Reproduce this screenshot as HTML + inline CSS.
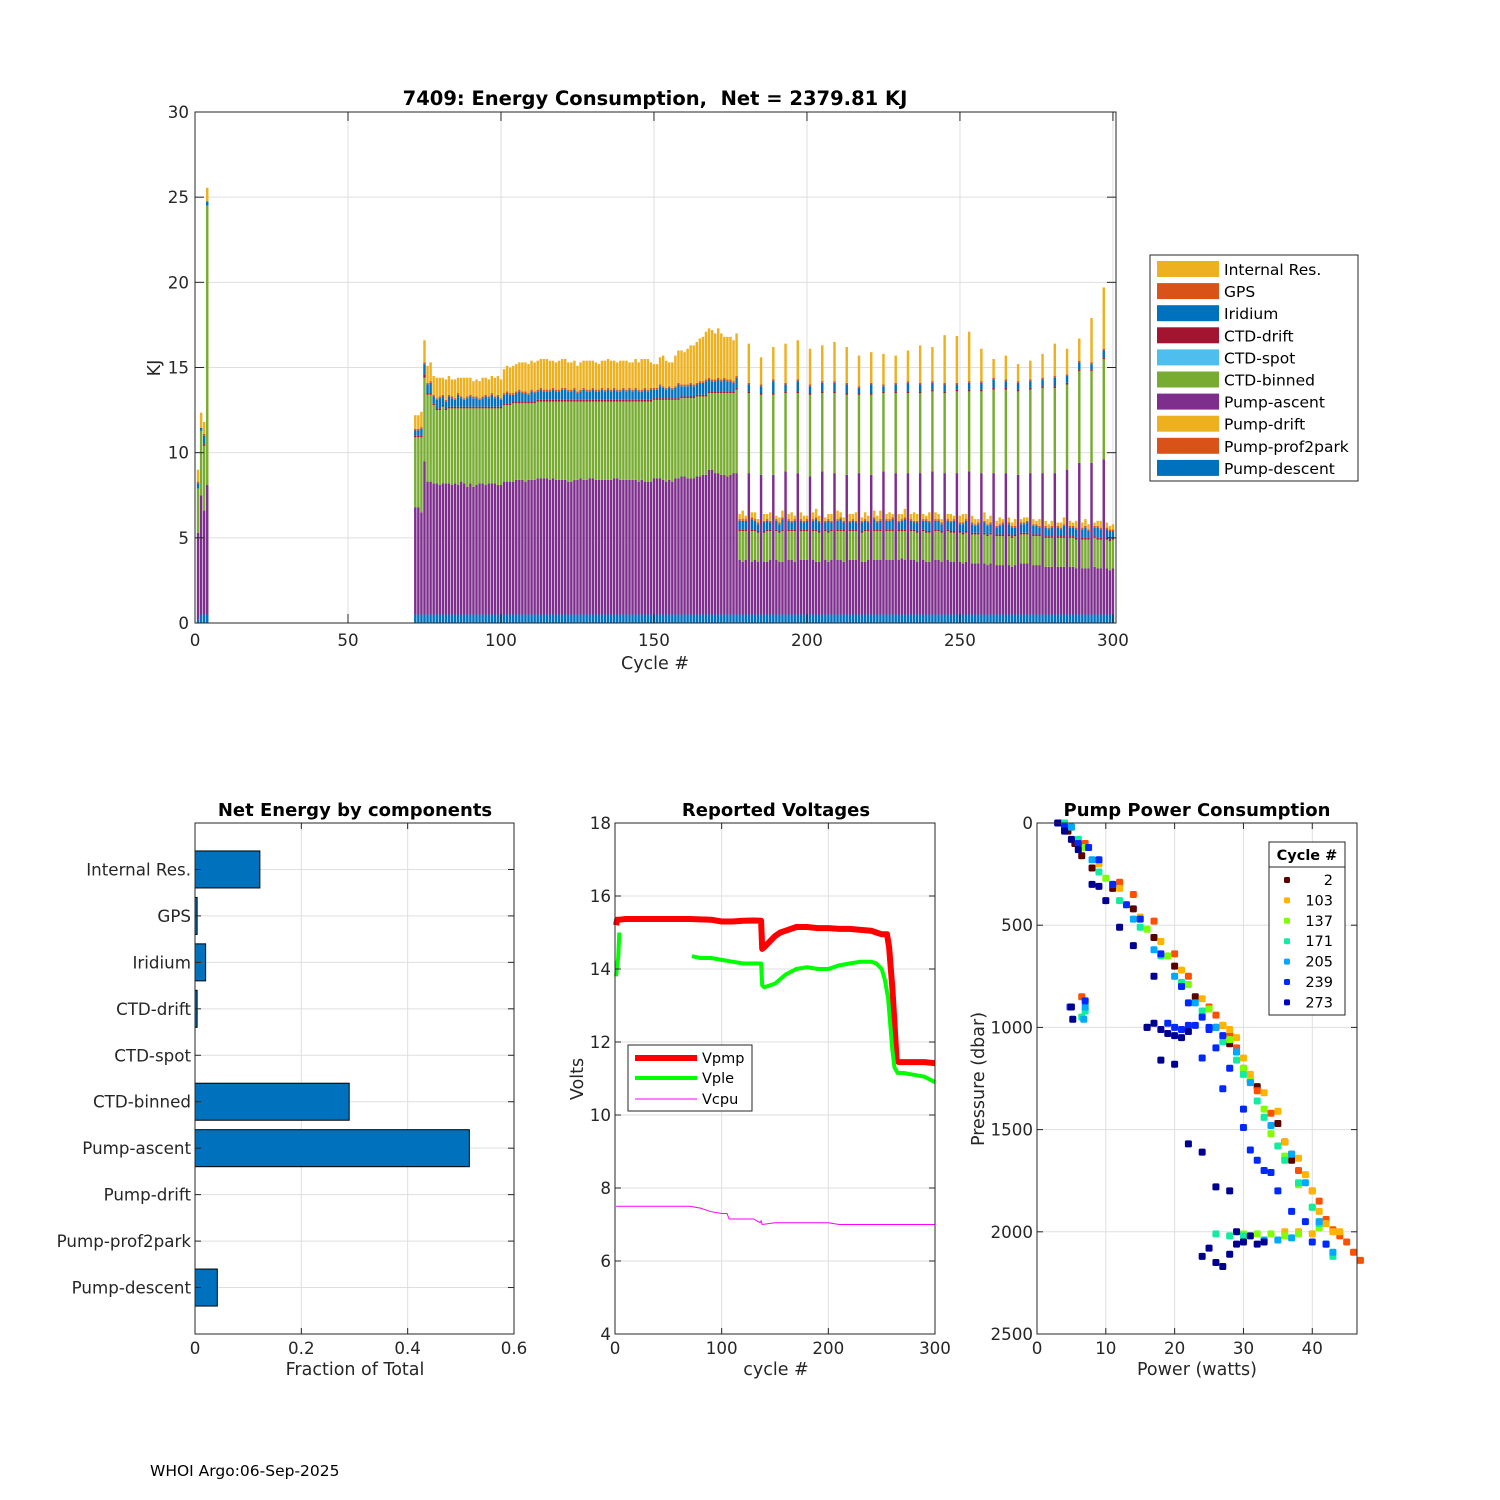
<!DOCTYPE html>
<html><head><meta charset="utf-8">
<style>
html,body{margin:0;padding:0;background:#fff;}
svg{display:block;font-family:"DejaVu Sans","Liberation Sans",sans-serif;}
.tk{font-size:16.7px;fill:#262626;}
.ttl{font-size:18px;font-weight:bold;fill:#000;}
.lab{font-size:17.5px;fill:#262626;}
.grid{stroke:#dfdfdf;stroke-width:1;}
</style></head>
<body>
<svg id="fig" width="1500" height="1500" viewBox="0 0 1500 1500" xmlns="http://www.w3.org/2000/svg">
<rect width="1500" height="1500" fill="#fff"/>
<g id="top"></g>
<g id="bl"></g>
<g id="bm"></g>
<g id="br"></g>
<text x="150" y="1476" font-size="15.5" fill="#000">WHOI Argo:06-Sep-2025</text>
</svg>
<script>
// ---------- Top chart data ----------
const cycles = [1,2,3,4,
72,73,74,75,76,77,78,79,80,81,82,83,84,85,86,87,88,89,90,91,92,93,94,95,96,97,98,99,100,
101,102,103,104,105,106,107,108,109,110,111,112,113,114,115,116,117,118,119,120,
121,122,123,124,125,126,127,128,129,130,131,132,133,134,135,136,137,138,139,140,
141,142,143,144,145,146,147,148,149,150,151,152,153,154,155,156,157,158,159,160,
161,162,163,164,165,166,167,168,169,170,171,172,173,174,175,176,177,
178,179,180,181,182,183,184,185,186,187,188,189,190,191,192,193,194,195,196,197,198,199,200,
201,202,203,204,205,206,207,208,209,210,211,212,213,214,215,216,217,218,219,220,
221,222,223,224,225,226,227,228,229,230,231,232,233,234,235,236,237,238,239,240,
241,242,243,244,245,246,247,248,249,250,251,252,253,254,255,256,257,258,259,260,
261,262,263,264,265,266,267,268,269,270,271,272,273,274,275,276,277,278,279,280,
281,282,283,284,285,286,287,288,289,290,291,292,293,294,295,296,297,298,299,300];
const descent = [0.2,0.5,0.5,0.5,
.5,.5,.5,.5,.5,.5,.5,.5,.5,.5,.5,.5,.5,.5,.5,.5,.5,.5,.5,.5,.5,.5,.5,.5,.5,.5,.5,.5,.5,
.5,.5,.5,.5,.5,.5,.5,.5,.5,.5,.5,.5,.5,.5,.5,.5,.5,.5,.5,.5,
.5,.5,.5,.5,.5,.5,.5,.5,.5,.5,.5,.5,.5,.5,.5,.5,.5,.5,.5,.5,
.5,.5,.5,.5,.5,.5,.5,.5,.5,.5,.5,.5,.5,.5,.5,.5,.5,.5,.5,.5,
.5,.5,.5,.5,.5,.5,.5,.5,.5,.5,.5,.5,.5,.5,.5,.5,.5,
.5,.5,.5,.5,.5,.5,.5,.5,.5,.5,.5,.5,.5,.5,.5,.5,.5,.5,.5,.5,.5,.5,.5,
.5,.5,.5,.5,.5,.5,.5,.5,.5,.5,.5,.5,.5,.5,.5,.5,.5,.5,.5,.5,
.5,.5,.5,.5,.5,.5,.5,.5,.5,.5,.5,.5,.5,.5,.5,.5,.5,.5,.5,.5,
.5,.5,.5,.5,.5,.5,.5,.5,.5,.5,.5,.5,.5,.5,.5,.5,.5,.5,.5,.5,
.5,.5,.5,.5,.5,.5,.5,.5,.5,.5,.5,.5,.5,.5,.5,.5,.5,.5,.5,.5,
.5,.5,.5,.5,.5,.5,.5,.5,.5,.5,.5,.5,.5,.5,.5,.5,.5,.5,.5,.5];
const ascent = [5.1,7.0,6.1,7.6,
6.3,6.3,6.0,9.0,7.8,7.8,7.7,7.7,7.6,
7.7,7.7,7.7,7.6,7.7,7.6,7.8,7.7,7.5,7.7,
7.5,7.6,7.7,7.7,7.6,7.7,7.7,7.7,7.6,7.6,
7.8,7.8,7.8,7.8,7.9,7.9,7.9,7.8,7.9,7.9,
7.9,8.0,8.0,8.0,8.0,7.9,8.0,7.9,7.9,7.9,
7.9,7.8,7.8,7.9,7.9,8.0,7.9,7.9,8.0,8.0,
7.9,7.9,7.9,7.9,7.9,7.9,8.0,8.0,7.9,7.9,
7.9,7.9,7.9,7.9,7.8,7.9,7.8,7.8,7.8,8.0,
8.0,8.0,7.9,7.8,7.9,7.8,8.0,8.0,8.1,8.1,
8.0,8.0,8.0,8.1,8.1,8.2,8.2,8.5,8.5,8.3,
8.3,8.2,8.2,8.1,8.2,8.3,8.3,
3.2,3.1,3.2,8.3,3.1,3.2,3.1,8.2,3.1,3.1,3.2,8.2,3.2,3.1,3.1,8.4,3.2,3.2,3.1,8.3,3.2,3.2,3.2,
8.1,3.2,3.1,3.1,8.4,3.2,3.1,3.2,8.3,3.2,3.2,3.1,8.2,3.2,3.2,3.2,8.3,3.1,3.1,3.2,
8.2,3.2,3.2,3.2,8.4,3.2,3.2,3.2,8.3,3.2,3.3,3.2,8.3,3.2,3.2,3.1,8.3,3.2,3.1,3.1,
8.4,3.2,3.2,3.1,8.3,3.2,3.1,3.1,8.3,3.1,3.0,3.1,8.4,3.0,3.0,3.0,8.3,3.0,2.9,3.0,
8.3,2.9,2.9,2.9,8.3,2.9,2.8,2.9,8.2,3.0,3.0,3.0,8.3,2.9,2.9,2.9,8.3,2.8,2.8,2.8,
8.3,2.8,2.8,2.8,8.5,2.8,2.8,2.7,8.9,2.7,2.7,2.7,8.9,2.8,2.7,2.7,9.1,2.7,2.6,2.7];
const binned = [2.6,3.8,3.8,16.4,
4.1,4.1,4.4,4.9,5.1,5.1,4.6,4.3,4.4,
4.5,4.3,4.4,4.5,4.4,4.5,4.3,4.4,4.6,4.4,
4.6,4.5,4.4,4.4,4.5,4.4,4.4,4.4,4.5,4.5,
4.5,4.5,4.5,4.6,4.5,4.5,4.5,4.6,4.5,4.5,
4.5,4.5,4.5,4.5,4.5,4.6,4.5,4.6,4.6,4.6,
4.6,4.7,4.7,4.6,4.6,4.5,4.6,4.6,4.5,4.5,
4.6,4.6,4.6,4.6,4.6,4.6,4.5,4.5,4.6,4.6,
4.6,4.6,4.6,4.6,4.7,4.6,4.7,4.7,4.7,4.6,
4.6,4.6,4.7,4.8,4.7,4.8,4.6,4.6,4.6,4.6,
4.7,4.7,4.7,4.7,4.7,4.6,4.6,4.5,4.5,4.7,
4.7,4.8,4.8,4.9,4.8,4.7,4.9,
1.7,1.8,1.7,4.7,1.8,1.7,1.7,4.7,1.7,1.8,1.7,4.7,1.7,1.7,1.8,4.6,1.7,1.7,1.8,4.7,1.7,1.7,1.7,
4.8,1.7,1.8,1.7,4.6,1.7,1.7,1.7,4.7,1.7,1.7,1.8,4.7,1.7,1.7,1.7,4.6,1.7,1.8,1.7,
4.7,1.7,1.7,1.7,4.6,1.7,1.7,1.7,4.7,1.7,1.6,1.7,4.7,1.7,1.7,1.7,4.7,1.7,1.7,1.7,
4.7,1.7,1.7,1.7,4.7,1.7,1.7,1.7,4.8,1.7,1.7,1.7,4.7,1.7,1.7,1.7,4.8,1.7,1.7,1.7,
4.9,1.7,1.7,1.7,4.9,1.7,1.7,1.7,4.9,1.7,1.7,1.7,4.9,1.7,1.7,1.7,5.0,1.7,1.7,1.7,
5.0,1.7,1.7,1.7,5.0,1.7,1.7,1.7,5.4,1.7,1.7,1.7,5.4,1.7,1.7,1.7,5.9,1.7,1.7,1.7];
const ctdDrift = [0,0,.1,0,
.1,.1,.1,.2,.1,.1,.1,.1,.1,.1,.1,.1,.1,.1,.1,.1,.1,.1,.1,.1,.1,.1,.1,.1,.1,.1,.1,.1,.1,
.1,.1,.1,.1,.1,.1,.1,.1,.1,.1,.1,.1,.1,.1,.1,.1,.1,.1,.1,.1,
.1,.1,.1,.1,.1,.1,.1,.1,.1,.1,.1,.1,.1,.1,.1,.1,.1,.1,.1,.1,
.1,.1,.1,.1,.1,.1,.1,.1,.1,.1,.1,.1,.1,.1,.1,.1,.1,.1,.1,.1,
.1,.1,.1,.1,.1,.1,.1,.1,.1,.1,.1,.1,.1,.1,.1,.1,.1,
.1,.1,.1,.1,.1,.1,.1,.1,.1,.1,.1,.1,.1,.1,.1,.1,.1,.1,.1,.1,.1,.1,.1,
.1,.1,.1,.1,.1,.1,.1,.1,.1,.1,.1,.1,.1,.1,.1,.1,.1,.1,.1,.1,
.1,.1,.1,.1,.1,.1,.1,.1,.1,.1,.1,.1,.1,.1,.1,.1,.1,.1,.1,.1,
.1,.1,.1,.1,.1,.1,.1,.1,.1,.1,.1,.1,.1,.1,.1,.1,.1,.1,.1,.1,
.1,.1,.1,.1,.1,.1,.1,.1,.1,.1,.1,.1,.1,.1,.1,.1,.1,.1,.1,.1,
.1,.1,.1,.1,.1,.1,.1,.1,.1,.1,.1,.1,.1,.1,.1,.1,.1,.1,.1,.1];
const iridium = [.3,.15,.5,.25,
.3,.3,.4,.6,.5,.6,.4,.5,.6,.5,.4,.6,.5,.4,.7,.5,.4,.5,.6,.5,.5,.4,.5,.6,.5,.7,.5,.6,.4,
.5,.6,.5,.4,.5,.6,.5,.5,.4,.6,.5,.5,.6,.5,.5,.5,.6,.5,.5,.6,
.6,.5,.5,.6,.4,.5,.6,.5,.5,.6,.5,.5,.6,.5,.6,.5,.6,.5,.5,.6,
.5,.6,.5,.6,.5,.5,.6,.5,.6,.5,.5,.7,.6,.5,.6,.5,.6,.8,.6,.6,
.6,.7,.6,.6,.7,.7,.8,.7,.6,.6,.7,.6,.7,.6,.6,.5,.6,
.5,.5,.5,.4,.6,.5,.4,.4,.5,.5,.4,.7,.5,.4,.6,.4,.5,.4,.5,.6,.5,.4,.5,
.4,.5,.6,.5,.5,.4,.6,.4,.5,.5,.6,.4,.5,.4,.5,.4,.3,.5,.5,.4,
.5,.6,.4,.5,.3,.5,.5,.6,.4,.4,.5,.6,.5,.5,.4,.5,.4,.5,.6,.5,
.4,.5,.5,.4,.4,.5,.5,.6,.3,.4,.5,.6,.4,.5,.4,.5,.4,.6,.5,.5,
.5,.4,.5,.6,.4,.6,.5,.4,.4,.5,.5,.6,.4,.5,.5,.4,.4,.5,.4,.5,
.5,.5,.4,.6,.4,.5,.5,.5,.4,.5,.6,.4,.3,.5,.6,.5,.4,.5,.5,.4];
const gps = [.1,0,.1,0,
.1,.1,.1,.1,.1,.1,.1,.1,.1,.1,.1,.1,.1,.1,.1,.1,.1,.1,.1,.1,.1,.1,.1,.1,.1,.1,.1,.1,.1,
.1,.1,.1,.1,.1,.1,.1,.1,.1,.1,.1,.1,.1,.1,.1,.1,.1,.1,.1,.1,
.1,.1,.1,.1,.1,.1,.1,.1,.1,.1,.1,.1,.1,.1,.1,.1,.1,.1,.1,.1,
.1,.1,.1,.1,.1,.1,.1,.1,.1,.1,.1,.1,.1,.1,.1,.1,.1,.1,.1,.1,
.1,.1,.1,.1,.1,.1,.1,.1,.1,.1,.1,.1,.1,.1,.1,.1,.1,
.1,.1,.1,.1,.1,.1,.1,.1,.1,.1,.1,.1,.1,.1,.1,.1,.1,.1,.1,.1,.1,.1,.1,
.1,.1,.1,.1,.1,.1,.1,.1,.1,.1,.1,.1,.1,.1,.1,.1,.1,.1,.1,.1,
.1,.1,.1,.1,.1,.1,.1,.1,.1,.1,.1,.1,.1,.1,.1,.1,.1,.1,.1,.1,
.1,.1,.1,.1,.1,.1,.1,.1,.1,.1,.1,.1,.1,.1,.1,.1,.1,.1,.1,.1,
.1,.1,.1,.1,.1,.1,.1,.1,.1,.1,.1,.1,.1,.1,.1,.1,.1,.1,.1,.1,
.1,.1,.1,.1,.1,.1,.1,.1,.1,.1,.1,.1,.1,.1,.1,.1,.1,.1,.1,.1];
const internal = [.7,.9,.7,.8,
.8,.8,.9,1.3,1.0,1.1,1.1,1.2,1.1,
1.0,1.2,1.1,1.0,1.1,.9,1.1,1.2,1.1,1.0,
.9,1.0,1.0,1.1,1.0,1.0,1.0,1.1,1.1,1.1,
1.4,1.5,1.5,1.6,1.6,1.6,1.7,1.7,1.7,1.7,
1.7,1.7,1.7,1.8,1.8,1.7,1.6,1.6,1.7,1.7,
1.7,1.6,1.6,1.6,1.5,1.6,1.6,1.7,1.7,1.6,
1.6,1.5,1.6,1.7,1.7,1.7,1.6,1.6,1.7,1.6,
1.7,1.5,1.6,1.7,1.6,1.8,1.7,1.8,1.5,1.4,
1.4,1.6,1.8,1.6,1.4,1.5,1.8,1.9,2.0,1.9,
2.1,2.2,2.3,2.4,2.5,2.6,2.8,2.9,2.9,2.7,
2.9,2.7,2.4,2.5,2.5,2.4,2.5,
.3,.5,.2,2.3,.3,.4,.2,1.6,.4,.3,.5,1.9,.2,.3,.4,2.3,.3,.5,.2,2.3,.4,.3,.2,
2.1,.4,.5,.3,2.1,.2,.3,.4,2.3,.5,.3,.2,2.1,.4,.3,.5,1.8,.2,.4,.3,
1.8,.4,.3,.5,1.8,.3,.4,.2,1.6,.4,.3,.5,1.8,.3,.5,.4,2.2,.3,.2,.5,
2.0,.4,.3,.2,2.8,.3,.4,.2,2.75,.4,.5,.3,2.9,.4,.3,.2,1.9,.5,.3,.4,
1.1,.3,.4,.2,1.4,.3,.2,.4,1.0,.2,.3,.2,1.1,.3,.2,.4,1.4,.3,.2,.3,
1.9,.2,.3,.4,1.5,.3,.2,.4,1.3,.3,.4,.3,2.6,.2,.3,.4,3.6,.3,.2,.3];
const seriesNames = ["Pump-descent","Pump-prof2park","Pump-drift","Pump-ascent","CTD-binned","CTD-spot","CTD-drift","Iridium","GPS","Internal Res."];
const seriesColors = ["#0072BD","#D95319","#EDB120","#7E2F8E","#77AC30","#4DBEEE","#A2142F","#0072BD","#D95319","#EDB120"];
const yTicksTop = [0,5,10,15,20,25,30];
const xTicksTop = [0,50,100,150,200,250,300];

// ---------- Net energy data ----------
const components = ["Internal Res.","GPS","Iridium","CTD-drift","CTD-spot","CTD-binned","Pump-ascent","Pump-drift","Pump-prof2park","Pump-descent"];
const fractions = [0.122,0.004,0.020,0.004,0,0.290,0.516,0,0,0.042];
const xTicksNet = [0,0.2,0.4,0.6];

// ---------- Voltage data ----------
const vpmpCycles = [1,2,4,10,30,50,70,90,100,110,120,130,137,138,140,145,150,155,160,170,180,190,200,210,220,230,240,245,250,255,257,260,262,264,266,270,280,290,300];
const vpmpVals = [15.2,15.35,15.35,15.37,15.37,15.37,15.37,15.35,15.3,15.3,15.32,15.33,15.32,14.55,14.6,14.75,14.9,15.0,15.05,15.15,15.15,15.12,15.12,15.1,15.1,15.07,15.05,15.0,14.95,14.95,14.6,13.5,12.5,11.5,11.45,11.45,11.45,11.45,11.42];
const vpleCycles = [1,2,3,4,null,72,80,90,100,110,120,130,137,138,140,150,160,170,180,190,200,210,220,230,240,245,250,253,256,258,260,262,265,270,280,290,300];
const vpleVals = [13.8,14.1,14.3,15.0,null,14.35,14.3,14.3,14.25,14.2,14.15,14.15,14.15,13.55,13.5,13.6,13.85,14.0,14.05,14.0,14.0,14.1,14.15,14.2,14.2,14.15,14.0,13.7,13.2,12.5,11.8,11.3,11.15,11.15,11.1,11.05,10.9];
const vcpuCycles = [1,70,80,90,100,105,107,130,136,137,138,150,200,210,300];
const vcpuVals = [7.5,7.5,7.45,7.35,7.3,7.3,7.15,7.15,7.05,7.1,7.0,7.05,7.05,7.0,7.0];

// ---------- Pump power data ----------
const scCycles = [2,69,103,137,171,205,239,273];
const scColors = ["#5a0000","#ff5000","#ffb400","#80ff00","#10eca0","#00a8ff","#0028ff","#000090"];
const pw2 = [3.5,4.5,5.5,6.5,8,11,14,17,20,23,26,28,29,31,32,35,36,37];
const pr2 = [0,40,100,160,220,320,420,560,700,850,1000,1080,1120,1260,1290,1470,1560,1650];
const pw69 = [5,7,9,12,14,17,20,22,25,26,27,28,29,30,32,34,36,37,38,40,41,42,43,44,45,46,47,6.5];
const pr69 = [20,100,190,290,350,480,640,750,900,940,990,1040,1100,1200,1310,1420,1560,1620,1700,1800,1850,1940,1990,2020,2050,2100,2140,850];
const pw103 = [4,6,9,12,15,18,21,24,27,28,29,30,31,33,35,36,38,39,40,41,42,43,44,36,38,40];
const pr103 = [0,90,200,320,460,580,720,860,990,1010,1050,1150,1230,1320,1410,1560,1640,1720,1800,1900,1960,2000,2000,2000,2000,2010];
const pw137 = [4,7,10,13,16,19,22,25,28,30,31,33,34,36,38,40,41,30,32,34,36,38];
const pr137 = [10,120,270,400,520,650,790,910,1060,1200,1260,1400,1520,1630,1770,1880,1980,2010,2010,2010,2020,2010];
const pw171 = [4,6,9,12,15,18,21,24,27,29,30,32,33,35,36,38,40,41,42,43,26,28,30,7,6.5];
const pr171 = [0,80,240,380,510,650,780,920,1070,1160,1230,1360,1440,1580,1650,1760,1880,1960,2060,2120,2010,2020,2020,920,950];
const pw205 = [5,8,11,14,17,20,23,26,29,31,34,37,39,41,42,43,7,6.8,33,35,37];
const pr205 = [20,180,300,470,620,750,880,1000,1120,1270,1480,1620,1760,1950,2060,2100,900,960,2040,2040,2030];
const pw239 = [4,6,7.5,9,11,13,15,18,21,22,24,25,27,26,28,30,31,33,35,37,39,40,42,24,27,30,32,34,23,25,4.8,7,19,20,21,22];
const pr239 = [20,100,120,180,300,400,470,640,800,880,950,1000,1040,1100,1200,1400,1600,1700,1800,1900,1950,2050,2060,1150,1300,1490,1650,1710,990,1010,900,870,980,1000,1010,990];
const pw273 = [3,4,5,6,8,9,10,12,14,17,16,18,19,20,21,22,18,20,22,24,26,28,29,30,25,26,24,27,28,29,31,32,33,5,5.2,16,17];
const pr273 = [0,40,80,130,300,310,380,510,600,750,1000,1010,1030,1040,1050,1020,1160,1180,1570,1610,1780,1800,2000,2050,2080,2150,2120,2170,2110,2060,2020,2060,2050,900,960,1000,980];
const legendCycles = [2,103,137,171,205,239,273];
const legendColors = ["#5a0000","#ffb400","#80ff00","#10eca0","#00a8ff","#0028ff","#0000c0"];

// ---------- helpers ----------
const NS = "http://www.w3.org/2000/svg";
function mk(parent, tag, attrs, text){
  const e = document.createElementNS(NS, tag);
  for (const k in attrs) e.setAttribute(k, attrs[k]);
  if (text !== undefined) e.textContent = text;
  parent.appendChild(e);
  return e;
}
function lin(d0,d1,r0,r1){ return v => r0 + (v-d0)*(r1-r0)/(d1-d0); }
function frame(g,x0,y0,x1,y1){
  const b = mk(g,"rect",{x:x0,y:y0,width:x1-x0,height:y1-y0,fill:"none",stroke:"#262626","stroke-width":1});
  
  
}

// ---------- TOP CHART ----------
(function(){
  const g = document.getElementById("top");
  const X0=195,X1=1116,Y0=112,Y1=623;
  const xs = lin(0,301,X0,X1), ys = lin(0,30,Y1,Y0);
  xTicksTop.forEach(t=>{
    const l = mk(g,"line",{x1:xs(t),x2:xs(t),y1:Y0,y2:Y1,class:"grid"});
    
    
  });
  yTicksTop.forEach(t=>{
    const l = mk(g,"line",{x1:X0,x2:X1,y1:ys(t),y2:ys(t),class:"grid"});
    
    
  });
  const series = [descent,null,null,ascent,binned,null,ctdDrift,iridium,gps,internal];
  const bw = (xs(1)-xs(0))*0.8;
  cycles.forEach((c,i)=>{
    let base = 0;
    series.forEach((s,k)=>{
      if(!s) return;
      const v = s[i];
      if(!v) return;
      const yt = ys(base+v), yb = ys(base);
      const r = mk(g,"rect",{x:xs(c)-bw/2,y:yt,width:bw,height:yb-yt,fill:seriesColors[k]});
      
      
      base += v;
    });
  });
  frame(g,X0,Y0,X1,Y1);
  xTicksTop.forEach(t=>{
    mk(g,"line",{x1:xs(t),x2:xs(t),y1:Y1,y2:Y1-9,stroke:"#262626"});
    mk(g,"line",{x1:xs(t),x2:xs(t),y1:Y0,y2:Y0+9,stroke:"#262626"});
    const tx = mk(g,"text",{x:xs(t),y:Y1+23,"text-anchor":"middle",class:"tk"},String(t));
    
    
  });
  yTicksTop.forEach(t=>{
    mk(g,"line",{x1:X0,x2:X0+9,y1:ys(t),y2:ys(t),stroke:"#262626"});
    mk(g,"line",{x1:X1,x2:X1-9,y1:ys(t),y2:ys(t),stroke:"#262626"});
    const tx = mk(g,"text",{x:X0-6,y:ys(t)+6,"text-anchor":"end",class:"tk"},String(t));
    
    
  });
  const ti = mk(g,"text",{x:655,y:105,"text-anchor":"middle",class:"ttl","font-size":"19.5"},"7409: Energy Consumption,  Net = 2379.81 KJ");
  
  
  ti.style.whiteSpace='pre';
  ti.style.fontSize='19.5px';
  const xl = mk(g,"text",{x:655,y:669,"text-anchor":"middle",class:"lab"},"Cycle #");
  
  
  const yl = mk(g,"text",{x:160,y:368,"text-anchor":"middle",class:"lab",transform:"rotate(-90 160 368)"},"KJ");
  
  
  const lg = mk(g,"g",{});
  
  
  mk(lg,"rect",{x:1150,y:255,width:208,height:226,fill:"#fff",stroke:"#262626"});
  for(let j=0;j<10;j++){
    const k = 9-j;
    const yy = 269 + j*22.1;
    const e = mk(lg,"g",{});
    
    
    mk(e,"rect",{x:1157,y:yy-8,width:62,height:16,fill:seriesColors[k]});
    mk(e,"text",{x:1224,y:yy+6,"font-size":"15.5",fill:"#000"},seriesNames[k]);
  }
})();

// ---------- NET ENERGY ----------
(function(){
  const g = document.getElementById("bl");
  const X0=195,X1=514,Y0=823,Y1=1334;
  const xs = lin(0,0.6,X0,X1), ys = lin(0,11,Y0,Y1);
  xTicksNet.forEach(t=>mk(g,"line",{x1:xs(t),x2:xs(t),y1:Y0,y2:Y1,class:"grid"}));
  components.forEach((c,i)=>mk(g,"line",{x1:X0,x2:X1,y1:ys(i+1),y2:ys(i+1),class:"grid"}));
  components.forEach((c,i)=>{
    const v = fractions[i];
    if(v>0){
      const r = mk(g,"rect",{x:X0,y:ys(i+1)-18.5,width:xs(v)-X0,height:37,fill:"#0072BD",stroke:"#000","stroke-width":1});
      
      
    }
    mk(g,"line",{x1:X0,x2:X0+6,y1:ys(i+1),y2:ys(i+1),stroke:"#262626"});
    mk(g,"line",{x1:X1,x2:X1-6,y1:ys(i+1),y2:ys(i+1),stroke:"#262626"});
    const tx = mk(g,"text",{x:X0-4,y:ys(i+1)+6,"text-anchor":"end",class:"tk"},c);
    
    
  });
  frame(g,X0,Y0,X1,Y1);
  xTicksNet.forEach(t=>{
    mk(g,"line",{x1:xs(t),x2:xs(t),y1:Y1,y2:Y1-6,stroke:"#262626"});
    mk(g,"line",{x1:xs(t),x2:xs(t),y1:Y0,y2:Y0+6,stroke:"#262626"});
    const tx = mk(g,"text",{x:xs(t),y:Y1+20,"text-anchor":"middle",class:"tk"},String(t));
    
    
  });
  const ti = mk(g,"text",{x:355,y:816,"text-anchor":"middle",class:"ttl"},"Net Energy by components");
  
  
  const xl = mk(g,"text",{x:355,y:1375,"text-anchor":"middle",class:"lab"},"Fraction of Total");
  
  
})();

// ---------- VOLTAGES ----------
(function(){
  const g = document.getElementById("bm");
  const X0=615,X1=935,Y0=823,Y1=1334;
  const xs = lin(0,300,X0,X1), ys = lin(4,18,Y1,Y0);
  const xt=[0,100,200,300], yt=[4,6,8,10,12,14,16,18];
  xt.forEach(t=>mk(g,"line",{x1:xs(t),x2:xs(t),y1:Y0,y2:Y1,class:"grid"}));
  yt.forEach(t=>mk(g,"line",{x1:X0,x2:X1,y1:ys(t),y2:ys(t),class:"grid"}));
  function path(cx,vals){
    let d="",pen=false;
    cx.forEach((c,i)=>{
      if(c===null||vals[i]===null){pen=false;return;}
      d += (pen?"L":"M")+xs(c).toFixed(1)+" "+ys(vals[i]).toFixed(1)+" ";
      pen=true;
    });
    return d;
  }
  const p1 = mk(g,"path",{d:path(vpmpCycles,vpmpVals),fill:"none",stroke:"#ff0000","stroke-width":6,"stroke-linejoin":"round"});
  
  
  const p2 = mk(g,"path",{d:path(vpleCycles,vpleVals),fill:"none",stroke:"#00ff00","stroke-width":4,"stroke-linejoin":"round"});
  
  
  const p3 = mk(g,"path",{d:path(vcpuCycles,vcpuVals),fill:"none",stroke:"#ff00ff","stroke-width":1});
  
  
  frame(g,X0,Y0,X1,Y1);
  xt.forEach(t=>{
    mk(g,"line",{x1:xs(t),x2:xs(t),y1:Y1,y2:Y1-6,stroke:"#262626"});
    mk(g,"line",{x1:xs(t),x2:xs(t),y1:Y0,y2:Y0+6,stroke:"#262626"});
    const tx = mk(g,"text",{x:xs(t),y:Y1+20,"text-anchor":"middle",class:"tk"},String(t));
    
    
  });
  yt.forEach(t=>{
    mk(g,"line",{x1:X0,x2:X0+6,y1:ys(t),y2:ys(t),stroke:"#262626"});
    mk(g,"line",{x1:X1,x2:X1-6,y1:ys(t),y2:ys(t),stroke:"#262626"});
    const tx = mk(g,"text",{x:X0-4,y:ys(t)+6,"text-anchor":"end",class:"tk"},String(t));
    
    
  });
  const ti = mk(g,"text",{x:776,y:816,"text-anchor":"middle",class:"ttl"},"Reported Voltages");
  
  
  const xl = mk(g,"text",{x:776,y:1375,"text-anchor":"middle",class:"lab"},"cycle #");
  
  
  const yl = mk(g,"text",{x:583,y:1079,"text-anchor":"middle",class:"lab",transform:"rotate(-90 583 1079)"},"Volts");
  
  
  const lg = mk(g,"g",{});
  
  
  mk(lg,"rect",{x:628,y:1045,width:124,height:66,fill:"#fff",stroke:"#262626"});
  [["Vpmp","#ff0000",6,1058],["Vple","#00ff00",4,1078],["Vcpu","#ff00ff",1,1099]].forEach(e=>{
    const eg = mk(lg,"g",{});
    
    
    mk(eg,"line",{x1:635,x2:697,y1:e[3],y2:e[3],stroke:e[1],"stroke-width":e[2]});
    mk(eg,"text",{x:702,y:e[3]+5,"font-size":"14.5",fill:"#000"},e[0]);
  });
})();

// ---------- PUMP POWER ----------
(function(){
  const g = document.getElementById("br");
  const X0=1037,X1=1357,Y0=823,Y1=1334;
  const xs = lin(0,46.5,X0,X1), ys = lin(0,2500,Y0,Y1);
  const xt=[0,10,20,30,40], yt=[0,500,1000,1500,2000,2500];
  xt.forEach(t=>mk(g,"line",{x1:xs(t),x2:xs(t),y1:Y0,y2:Y1,class:"grid"}));
  yt.forEach(t=>mk(g,"line",{x1:X0,x2:X1,y1:ys(t),y2:ys(t),class:"grid"}));
  const pws=[pw2,pw69,pw103,pw137,pw171,pw205,pw239,pw273];
  const prs=[pr2,pr69,pr103,pr137,pr171,pr205,pr239,pr273];
  pws.forEach((pw,k)=>{
    const sg = mk(g,"g",{fill:scColors[k]});
    
    
    pw.forEach((p,i)=>{
      const r = mk(sg,"rect",{x:xs(p)-3.5,y:ys(prs[k][i])-3.5,width:7,height:7,rx:1.5});
      
      
    });
  });
  frame(g,X0,Y0,X1,Y1);
  xt.forEach(t=>{
    mk(g,"line",{x1:xs(t),x2:xs(t),y1:Y1,y2:Y1-6,stroke:"#262626"});
    mk(g,"line",{x1:xs(t),x2:xs(t),y1:Y0,y2:Y0+6,stroke:"#262626"});
    const tx = mk(g,"text",{x:xs(t),y:Y1+20,"text-anchor":"middle",class:"tk"},String(t));
    
    
  });
  yt.forEach(t=>{
    mk(g,"line",{x1:X0,x2:X0+6,y1:ys(t),y2:ys(t),stroke:"#262626"});
    mk(g,"line",{x1:X1,x2:X1-6,y1:ys(t),y2:ys(t),stroke:"#262626"});
    const tx = mk(g,"text",{x:X0-4,y:ys(t)+6,"text-anchor":"end",class:"tk"},String(t));
    
    
  });
  const ti = mk(g,"text",{x:1197,y:816,"text-anchor":"middle",class:"ttl"},"Pump Power Consumption");
  
  
  const xl = mk(g,"text",{x:1197,y:1375,"text-anchor":"middle",class:"lab"},"Power (watts)");
  
  
  const yl = mk(g,"text",{x:984,y:1079,"text-anchor":"middle",class:"lab",transform:"rotate(-90 984 1079)"},"Pressure (dbar)");
  
  
  const lg = mk(g,"g",{});
  
  
  mk(lg,"rect",{x:1269,y:842,width:76,height:173,fill:"#fff",stroke:"#262626"});
  mk(lg,"line",{x1:1269,x2:1345,y1:867,y2:867,stroke:"#262626"});
  mk(lg,"text",{x:1307,y:860,"text-anchor":"middle","font-size":"14.5","font-weight":"bold",fill:"#000"},"Cycle #");
  legendCycles.forEach((c,i)=>{
    const yy = 880 + i*20.4;
    const eg = mk(lg,"g",{});
    
    
    mk(eg,"rect",{x:1284,y:yy-3,width:6,height:6,rx:1.5,fill:legendColors[i]});
    mk(eg,"text",{x:1333,y:yy+5,"text-anchor":"end","font-size":"14.5",fill:"#000"},String(c));
  });
})();
</script>
</body></html>
